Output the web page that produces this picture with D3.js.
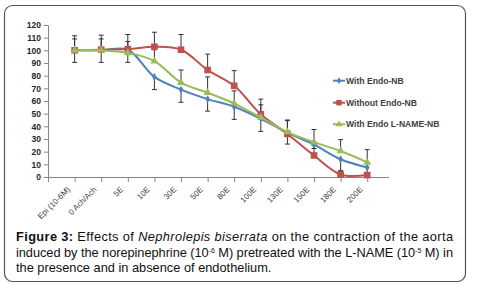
<!DOCTYPE html>
<html><head><meta charset="utf-8">
<script src="https://cdn.jsdelivr.net/npm/d3@7/dist/d3.min.js"></script>
<style>html,body{margin:0;padding:0;background:#fff;}svg{display:block;}</style>
</head><body>
<svg id="c" width="478" height="292"></svg>
<script>
const categories = ["Epi (10-6M)","0 Ach/Ach","5E","10E","30E","50E","80E","100E","130E","150E","180E","200E"];
const yTicks = [0,10,20,30,40,50,60,70,80,90,100,110,120];
const withEndo      = [100,100,100.5,79,69,61.5,55.5,46,35,25.5,14,7.5];
const withoutEndo   = [100,100.5,101,102.8,100.5,84.5,72,49.5,34,17,2,1.5];
const withEndoLName = [100,100,98,91.5,74.5,66.5,58,47,35.5,27.5,20.5,11.6];
const withEndoErrDown      = [9.5,9.5,10,10,10,9.5,10,10,9,3,10,7];
const withoutEndoErrUp     = [11.5,11.5,11.5,11.5,12,12.5,12,12,11,8,3,2];
const withEndoLNameErrUp   = [9,9,9,9,10,12.5,10,10,9,10,9,10];
const seriesNames = ["With Endo-NB","Without Endo-NB","With Endo L-NAME-NB"];
const colors = ["#4F81BD","#C0504D","#9BBB59"];

const svg = d3.select("#c");
svg.append("rect").attr("x",4.5).attr("y",5.5).attr("width",461).attr("height",276)
  .attr("rx",8).attr("fill","#fff").attr("stroke","#555").attr("stroke-width",1.2);

const x = d3.scaleLinear().domain([-1, 11.8]).range([48, 388.5]);
const y = d3.scaleLinear().domain([0,120]).range([177, 25]);

const yAxis = d3.axisLeft(y).tickValues(yTicks).tickSize(4).tickPadding(3);
const gy = svg.append("g").attr("transform","translate(48,0)").call(yAxis);
gy.select(".domain").attr("stroke","#868686");
gy.selectAll(".tick line").attr("stroke","#868686");
gy.selectAll(".tick text").attr("font-family","Liberation Sans, Arial, sans-serif")
  .attr("font-weight","bold").attr("font-size","8.5px").attr("fill","#262626");

const xAxis = d3.axisBottom(x).tickValues(d3.range(-1,12)).tickSize(5).tickSizeOuter(0).tickFormat("");
const gx = svg.append("g").attr("transform","translate(0,177)").call(xAxis);
gx.select(".domain").attr("stroke","#868686");
gx.selectAll(".tick line").attr("stroke","#868686");
svg.append("g").selectAll("text").data(categories).join("text")
  .attr("transform",(d,i)=>`translate(${x(i)-6},188) rotate(-45)`)
  .attr("text-anchor","end").attr("dy","0.35em")
  .attr("font-family","Liberation Sans, Arial, sans-serif").attr("font-size","8px")
  .attr("fill","#404040").text(d=>d);

const errs = [
  {vals: withEndo, err: withEndoErrDown, dir: -1},
  {vals: withoutEndo, err: withoutEndoErrUp, dir: 1},
  {vals: withEndoLName, err: withEndoLNameErrUp, dir: 1}
];
const ge = svg.append("g").attr("stroke","#333").attr("stroke-width",1);
errs.forEach(s=>{
  s.vals.forEach((v,i)=>{
    const e = Math.max(0, v + s.dir*s.err[i]);
    ge.append("line").attr("x1",x(i)).attr("x2",x(i)).attr("y1",y(v)).attr("y2",y(e));
    ge.append("line").attr("x1",x(i)-2.5).attr("x2",x(i)+2.5).attr("y1",y(e)).attr("y2",y(e));
  });
});

const data = [withEndo, withoutEndo, withEndoLName];
const line = d3.line().x((d,i)=>x(i)).y(d=>y(d)).curve(d3.curveCatmullRom.alpha(0.5));
const symTypes = [d3.symbolDiamond, d3.symbolSquare, d3.symbolTriangle];
const symSizes = [18, 44, 28];
data.forEach((vals,k)=>{
  svg.append("path").datum(vals).attr("d",line).attr("fill","none")
    .attr("stroke",colors[k]).attr("stroke-width",2);
  svg.append("g").selectAll("path").data(vals).join("path")
    .attr("transform",(d,i)=>`translate(${x(i)},${y(d)})`)
    .attr("d",d3.symbol().type(symTypes[k]).size(symSizes[k])()).attr("fill",colors[k]);
});

const ly = [80.7,102.7,124.3];
seriesNames.forEach((n,k)=>{
  const g = svg.append("g").attr("transform",`translate(333,${ly[k]})`);
  g.append("line").attr("x1",0).attr("x2",12).attr("stroke",colors[k]).attr("stroke-width",2);
  g.append("path").attr("transform","translate(6,0)")
    .attr("d",d3.symbol().type(symTypes[k]).size([14,30,20][k])())
    .attr("fill",colors[k]);
  g.append("text").attr("x",13).attr("dy","0.35em")
    .attr("font-family","Liberation Sans, Arial, sans-serif").attr("font-weight","bold")
    .attr("font-size","8.6px").attr("fill","#404040").text(n);
});

const cap = svg.append("g").attr("font-family","Liberation Sans, Arial, sans-serif")
  .attr("font-size","12.8px").attr("fill","#111");
const t1 = cap.append("text").attr("x",16).attr("y",241).attr("textLength",437).attr("lengthAdjust","spacing");
t1.append("tspan").attr("font-weight","bold").text("Figure 3:");
t1.append("tspan").text(" Effects of ");
t1.append("tspan").attr("font-style","italic").text("Nephrolepis biserrata");
t1.append("tspan").text(" on the contraction of the aorta");
const t2 = cap.append("text").attr("x",16).attr("y",256.5).attr("textLength",437).attr("lengthAdjust","spacing");
t2.append("tspan").text("induced by the norepinephrine (10");
t2.append("tspan").attr("font-size","7px").attr("dy",-4).text("-6");
t2.append("tspan").attr("dy",4).text(" M) pretreated with the L-NAME (10");
t2.append("tspan").attr("font-size","7px").attr("dy",-4).text("-5");
t2.append("tspan").attr("dy",4).text(" M) in");
cap.append("text").attr("x",16).attr("y",272).text("the presence and in absence of endothelium.");
</script>
</body></html>
